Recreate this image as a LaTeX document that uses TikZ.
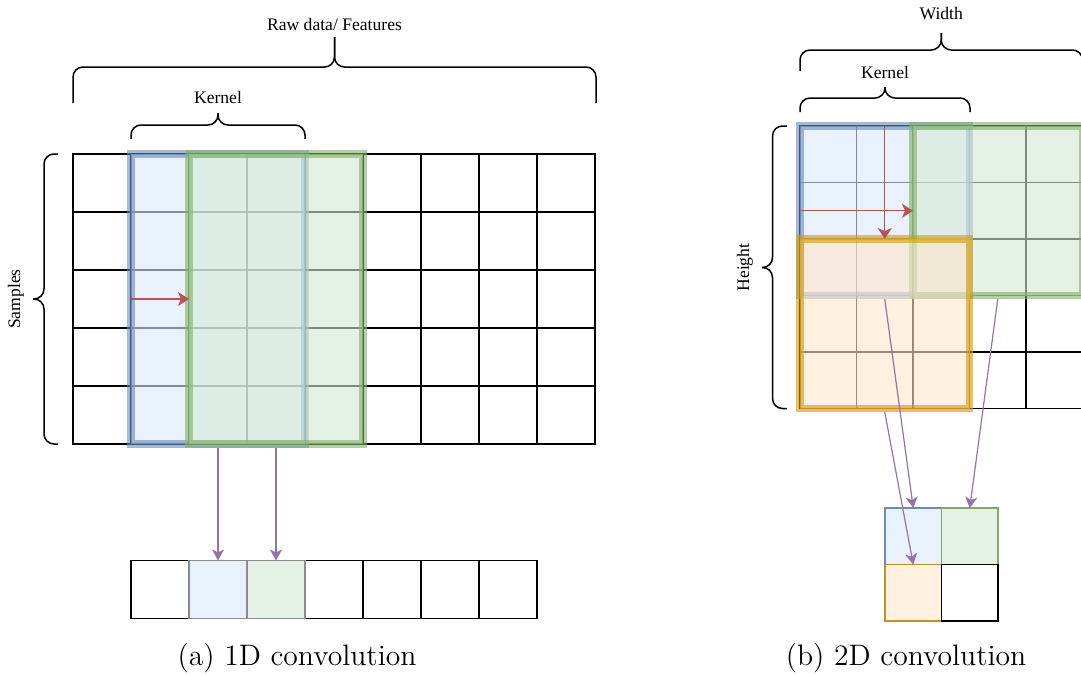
\documentclass[tikz,border=0pt]{standalone}
\usepackage{fontspec}
\usepackage{xcolor}
\usepackage{tikz}
\usetikzlibrary{fit, arrows.meta}

\newfontfamily\drawiofont{Liberation Serif}

\definecolor{kblue}{HTML}{DAE8FC}
\definecolor{kbluedraw}{HTML}{6C8EBF}
\definecolor{kgreen}{HTML}{D5E8D4}
\definecolor{kgreendraw}{HTML}{82B366}
\definecolor{korange}{HTML}{FFE6CC}
\definecolor{korangedraw}{HTML}{D79B00}
\definecolor{slide}{HTML}{B85450}
\definecolor{feed}{HTML}{9673A6}

\begin{document}
\begin{tikzpicture}[x=0.5pt, y=-0.5pt,
        cell/.style={draw, line width=0.75pt, minimum size=29pt, inner sep=0pt, outer sep=0pt},
        smallcell/.style={cell, minimum size=28.25pt},
        kernel/.style={line width=3.6pt, inner sep=0pt, fill opacity=0.6, draw opacity=0.62},
        brace/.style={draw, line width=0.75pt, rounded corners=5pt},
        lbl/.style={font=\drawiofont\fontsize{8.8}{10}\selectfont},
        subcaption/.style={font=\fontsize{14.8}{17}\selectfont},
        slidearrow/.style={draw=slide, line width=0.6pt, -{Stealth[length=5.5pt, width=7pt, inset=1.5pt]}},
        feedarrow/.style={draw=feed, line width=0.6pt, -{Stealth[length=5.5pt, width=6pt, inset=1.5pt]}}]
    \useasboundingbox (0,0) rectangle (1081,675);

    % 1D: input grid
    \foreach \i in {0,...,8}
        \foreach \j in {0,...,4}
            \node[cell] (a-\j-\i) at ({102+58*\i},{183+58*\j}) {};

    \node[kernel, fill=kblue, draw=kbluedraw, fit=(a-0-1)(a-4-3)] (k1) {};
    \node[kernel, fill=kgreen, draw=kgreendraw, fit=(a-0-2)(a-4-4)] (k2) {};
    \draw[slidearrow] (a-2-1.west) -- (a-2-2.west);

    % 1D: output row
    \foreach \i in {0,...,6}
        \node[cell] (o-\i) at ({160+58*\i},589.5) {};
    \node[cell, draw=black!45, fill=kblue!60] (o-1) at (218,589.5) {};
    \node[cell, draw=black!45, fill=kgreen!60] (o-2) at (276,589.5) {};

    \draw[feedarrow] (k1.south) -- (o-1.north);
    \draw[feedarrow] (k2.south) -- (o-2.north);

    % 1D braces
    \draw[brace] (73,103) -- (73,67) -- (334.5,67) -- (334.5,37);
    \draw[brace] (334.5,37) -- (334.5,67) -- (596,67) -- (596,103);
    \node[lbl] (raw) at (334.5,24) {Raw data/ Features};
    \draw[brace] (131,139) -- (131,125) -- (218,125) -- (218,113);
    \draw[brace] (218,113) -- (218,125) -- (305,125) -- (305,139);
    \node[lbl] (ker1) at (218,97) {Kernel};
    \draw[brace] (58,154) -- (44,154) -- (44,299) -- (33,299);
    \draw[brace] (33,299) -- (44,299) -- (44,444) -- (58,444);
    \node[lbl, rotate=90] (smp) at (16,299) {Samples};

    \node[subcaption] (capa) at (297,658) {(a) 1D convolution};

    % 2D: input grid
    \foreach \i in {0,...,4}
        \foreach \j in {0,...,4}
            \node[smallcell] (b-\j-\i) at ({828.25+56.5*\i},{154.25+56.5*\j}) {};

    \node[kernel, fill=kblue, draw=kbluedraw, fit=(b-0-0)(b-2-2)] (kb) {};
    \node[kernel, fill=kgreen, draw=kgreendraw, fit=(b-0-2)(b-2-4)] (kg) {};
    \node[kernel, fill=korange, draw=korangedraw, fit=(b-2-0)(b-4-2)] (ky) {};
    \draw[slidearrow] (b-1-0.west) -- (b-1-2.west);
    \draw[slidearrow] (b-0-1.north) -- (b-2-1.north);

    % 2D: output map
    \node[smallcell, draw=kbluedraw!70!gray, fill=kblue!60] (q-0-0) at (913.25,536.25) {};
    \node[smallcell, draw=kgreendraw!80!gray, fill=kgreen!60] (q-0-1) at (969.75,536.25) {};
    \node[smallcell, draw=korangedraw!70!gray, fill=korange!60] (q-1-0) at (913.25,592.75) {};
    \node[smallcell] (q-1-1) at (969.75,592.75) {};

    \draw[feedarrow] (kb.south) -- (q-0-0.north);
    \draw[feedarrow] (kg.south) -- (q-0-1.north);
    \draw[feedarrow] (ky.south) -- (q-1-0.north);

    % 2D braces
    \draw[brace] (800,71) -- (800,50) -- (941.25,50) -- (941.25,33);
    \draw[brace] (941.25,33) -- (941.25,50) -- (1082.5,50) -- (1082.5,71);
    \node[lbl] (wid) at (941.25,14) {Width};
    \draw[brace] (800,112) -- (800,98) -- (885,98) -- (885,87);
    \draw[brace] (885,87) -- (885,98) -- (970,98) -- (970,112);
    \node[lbl] (ker2) at (885,72) {Kernel};
    \draw[brace] (787,126) -- (772.5,126) -- (772.5,267.5) -- (762,267.5);
    \draw[brace] (762,267.5) -- (772.5,267.5) -- (772.5,408.5) -- (787,408.5);
    \node[lbl, rotate=90] (hgt) at (745,267.5) {Height};

    \node[subcaption] (capb) at (906,658) {(b) 2D convolution};
\end{tikzpicture}
\end{document}
